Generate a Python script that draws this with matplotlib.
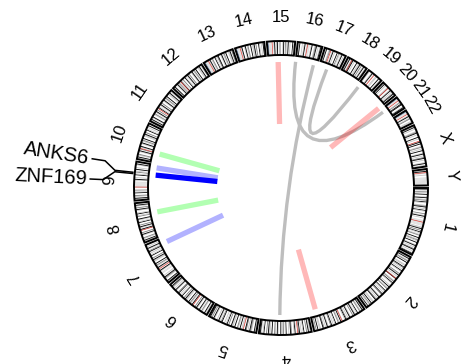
import numpy as np
import matplotlib.pyplot as plt
from matplotlib.patches import Wedge, PathPatch
from matplotlib.path import Path

plt.rcParams['font.family'] = ['Liberation Sans', 'DejaVu Sans']

# hg19 chromosome sizes (Mb), clockwise from 3 o'clock
chroms = ['1', '2', '3', '4', '5', '6', '7', '8', '9', '10', '11', '12', '13', '14',
          '15', '16', '17', '18', '19', '20', '21', '22', 'X', 'Y']
chrom_mb = [249.25, 243.20, 198.02, 191.15, 180.92, 171.12, 159.14, 146.36, 141.21,
            135.53, 135.01, 133.85, 115.17, 107.35, 102.53, 90.35, 81.20, 78.08,
            59.13, 63.03, 48.13, 51.30, 155.27, 59.37]
centromere_mb = [125.0, 93.3, 91.0, 50.4, 48.4, 61.0, 59.9, 45.6, 49.0, 40.2, 53.7,
                 35.8, 17.9, 17.6, 19.0, 36.6, 24.0, 17.2, 26.5, 27.5, 13.2, 14.7,
                 60.6, 12.5]
# rough band pattern per chromosome, spread evenly along its length
# . gneg  - gpos25  = gpos50  + gpos75  # gpos100  v gvar  s stalk
band_codes = [
    ".#-.+=.#..-#.=+.#-..=+#.-.#=..+.-#.=..vvvvvvv.-=#.+.#-.=+..#.-+=.#..-#.=.+#.-.=#.",
    ".=#.-+.#..=-.#+.=.#-..+=#.-.=#..-+.#=..-.#.=+..#-.=.#+..-#.=.+#..=-.#.+=.#-.",
    ".=#.-+..#=.-#.+..=#.-.+#=..-.#.=+..#-.=.#+..-#.=.+#..=-.#.+=.",
    ".-=#.+..#=.-.#+..=#-..+#.=..#-.+=.#..-#.=+..#.-=#.+..#=.-#.",
    ".=#..-+#.=.+#..=-.#.=+..#.-=#..+.#=.-..#+.=#.-..=#.+-#.",
    ".-=#..=+.-#..=#.+..-#.=+.#..-=#.+..#=.-.#+..=#.-.=+#..",
    ".=#..-+#.=..vv.=#..-#.=+.#..=-#.+..#=.-.#+.=#.-..",
    ".=#.-+..=#.+..-#.=#.+..#-.=#..+=.#-..=#.+.-#..",
    ".-#.=+..#-.+..vvvvvvv.=#.-..#=.+-.#.=..-#..",
    ".=#.-+..=#.+.=#..-#.=+.#..=-#.+..#=.-.#..",
    ".-#.=#..=+.-#.+..#=.-#.+..=#.-+.#..=-#.=.",
    ".=#..-#.+=.#-.+..#=.-#.+..=#.-+.#..=-#.=.",
    "ssvvv.=#.-+..#=.+#..=#.-+.#..=-#.+.",
    "ssvvv.=#..-#.=+..#.-=#.+..#=.-.#.",
    "ssvvv..-#.=#.-+..=#.+-.#.=..#-.",
    ".=#..-.=#.vvvv.=#..-+#.=.-#.",
    ".-#..=+..=#.-..#.+=.-#.=..",
    ".=#.-+#.=..#.-=#.+.-#.=.",
    ".-..=#.v..-=..#.-.",
    ".=#.-..-+..=#.-.+#..",
    "ssvv..=+.##..-#.",
    "ssvv..=#.-+..=-.",
    ".=#.-..-+#.=..#.-..=#.#..-+.=.#..=#.-.+#.=..-#.=.",
    ".=#.-.=..vvvvvvvvv",
]
stain_colors = {'-': '#C8C8C8', '=': '#C8C8C8', '+': '#828282', '#': '#000000',
                'v': '#DCDCDC', 's': '#647FA4'}

# radial bars (chrom, Mb, colour)
bar_chrom = ['15', '20', '3', '10', '9', '9', '8', '7']
bar_mb = [39.5, 62.0, 173.0, 39.0, 130.0, 99.5, 100.5, 137.8]
bar_color = [(1, 0, 0, 0.28), (1, 0, 0, 0.28), (1, 0, 0, 0.28), (0, 1, 0, 0.3),
             (0, 0, 1, 0.3), (0, 0, 1, 1.0), (0, 1, 0, 0.3), (0, 0, 1, 0.3)]

# links (chrom1, Mb1) -> (chrom2, Mb2)
link_from = [('16', 0.5), ('16', 75.6), ('17', 34.0)]
link_to = [('21', 13.5), ('4', 116.0), ('19', 7.0)]

# gene labels
gene_names = ['ANKS6', 'ZNF169']
gene_chrom = ['9', '9']
gene_mb = [101.5, 97.0]
gene_label_deg = [188.8, 182.7]

gap_deg = 1.0
deg_per_mb = (360 - gap_deg * len(chroms)) / sum(chrom_mb)
chrom_start = {}
acc = 0.0
for i, c in enumerate(chroms):
    chrom_start[c] = acc
    acc += chrom_mb[i] * deg_per_mb + gap_deg


def ang(c, mb):
    # clockwise degrees from east
    return chrom_start[c] + mb * deg_per_mb


def xy(theta, r):
    t = np.deg2rad(-theta)
    return r * np.cos(t), r * np.sin(t)


R_OUT, R_IN = 1.0, 133 / 147
R_LINK = 127 / 147
BAR_IN, BAR_OUT = 64 / 147, 126 / 147

fig = plt.figure(figsize=(4.62, 3.64), dpi=100)
ax = fig.add_axes([0, 0, 1, 1])
ax.set_xlim(-281 / 147, (462 - 281) / 147)
ax.set_ylim(-(364 - 188) / 147, 188 / 147)
ax.axis('off')

# ideogram
for i, c in enumerate(chroms):
    a0 = ang(c, 0)
    a1 = ang(c, chrom_mb[i])
    ax.add_patch(Wedge((0, 0), R_OUT, -a1, -a0, width=R_OUT - R_IN,
                       facecolor='white', edgecolor='none'))
    codes = band_codes[i]
    step = chrom_mb[i] / len(codes)
    for k, ch in enumerate(codes):
        if ch == '.':
            continue
        b0 = ang(c, k * step)
        b1 = ang(c, (k + 1) * step)
        ax.add_patch(Wedge((0, 0), R_OUT, -b1, -b0, width=R_OUT - R_IN,
                           facecolor=stain_colors[ch], edgecolor='none'))
    cm = centromere_mb[i]
    ax.add_patch(Wedge((0, 0), R_OUT, -ang(c, cm + 1.2), -ang(c, cm - 1.2),
                       width=R_OUT - R_IN, facecolor='#D92F27', edgecolor='none'))
    ax.add_patch(Wedge((0, 0), R_OUT, -a1, -a0, width=R_OUT - R_IN,
                       facecolor='none', edgecolor='black', lw=1.4))
    mid = (a0 + a1) / 2
    lx, ly = xy(mid, 171 / 147)
    ax.text(lx, ly, c, fontsize=12, rotation=-mid - 90,
            ha='center', va='center', rotation_mode='anchor')

# links
for (c1, m1), (c2, m2) in zip(link_from, link_to):
    p1 = xy(ang(c1, m1), R_LINK)
    p2 = xy(ang(c2, m2), R_LINK)
    path = Path([p1, (0, 0), p2], [Path.MOVETO, Path.CURVE3, Path.CURVE3])
    ax.add_patch(PathPatch(path, facecolor='none', edgecolor='#BEBEBE', lw=2.4,
                           capstyle='butt'))

# radial bars
for c, m, col in zip(bar_chrom, bar_mb, bar_color):
    t = ang(c, m)
    x0, y0 = xy(t, BAR_IN)
    x1, y1 = xy(t, BAR_OUT)
    ax.plot([x0, x1], [y0, y1], color=col, lw=3.8, solid_capstyle='butt')

# gene labels with connectors
for name, c, m, la in zip(gene_names, gene_chrom, gene_mb, gene_label_deg):
    t = ang(c, m)
    pts = [xy(t, 149 / 147), xy(t, 167 / 147), xy(la, 178 / 147), xy(la, 191 / 147)]
    ax.plot([p[0] for p in pts], [p[1] for p in pts], color='black', lw=1.1)
    tx, ty = xy(la, 194 / 147)
    ax.text(tx, ty, name, fontsize=14.5, rotation=-la + 180, ha='right', va='center',
            rotation_mode='anchor')

fig.savefig('out.png', dpi=100)
